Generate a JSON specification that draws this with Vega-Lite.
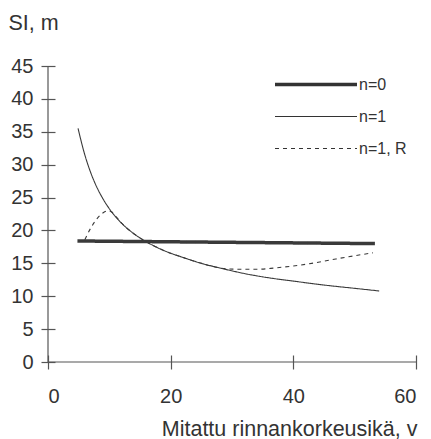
{
  "$schema": "https://vega.github.io/schema/vega-lite/v6.json",
  "width": 368,
  "height": 296,
  "autosize": "none",
  "padding": {"left": 48, "top": 66, "right": 15, "bottom": 77},
  "background": "white",
  "config": {
    "view": {"stroke": null},
    "font": "Liberation Sans",
    "axis": {
      "grid": false,
      "domain": false,
      "offset": -7,
      "tickSize": 14,
      "tickColor": "#555",
      "tickWidth": 1.2,
      "labelOverlap": false,
      "labelFont": "Liberation Sans",
      "labelFontSize": 20,
      "labelColor": "#333",
      "titleFont": "Liberation Sans",
      "titleFontWeight": "normal",
      "titleColor": "#333",
      "titleFontSize": 21.5
    },
    "legend": {
      "orient": "none",
      "legendX": 225,
      "legendY": 10.5,
      "padding": 0,
      "symbolType": "stroke",
      "symbolSize": 6724,
      "symbolStrokeColor": "#333",
      "clipHeight": 16,
      "rowPadding": 16,
      "labelOffset": 0,
      "labelFont": "Liberation Sans",
      "labelFontSize": 16,
      "labelColor": "#333"
    }
  },
  "data": {
    "values": [
      {"series": "n=0", "age": 4.8, "si": 18.4},
      {"series": "n=0", "age": 53.3, "si": 18.0},
      {"series": "n=1", "age": 4.9, "si": 35.5},
      {"series": "n=1", "age": 6, "si": 31.5},
      {"series": "n=1", "age": 7, "si": 28.7},
      {"series": "n=1", "age": 8, "si": 26.5},
      {"series": "n=1", "age": 9, "si": 24.75},
      {"series": "n=1", "age": 10, "si": 23.3},
      {"series": "n=1", "age": 12, "si": 21.1},
      {"series": "n=1", "age": 14, "si": 19.5},
      {"series": "n=1", "age": 16, "si": 18.3},
      {"series": "n=1", "age": 19, "si": 16.9},
      {"series": "n=1", "age": 22, "si": 15.9},
      {"series": "n=1", "age": 25, "si": 15.0},
      {"series": "n=1", "age": 28, "si": 14.3},
      {"series": "n=1", "age": 32, "si": 13.45},
      {"series": "n=1", "age": 36, "si": 12.8},
      {"series": "n=1", "age": 40, "si": 12.3},
      {"series": "n=1", "age": 45, "si": 11.7},
      {"series": "n=1", "age": 50, "si": 11.2},
      {"series": "n=1", "age": 54, "si": 10.8},
      {"series": "n=1, R", "age": 6.0, "si": 18.6},
      {"series": "n=1, R", "age": 7.0, "si": 20.4},
      {"series": "n=1, R", "age": 8.0, "si": 21.8},
      {"series": "n=1, R", "age": 9.0, "si": 22.7},
      {"series": "n=1, R", "age": 9.8, "si": 23.0},
      {"series": "n=1, R", "age": 10.4, "si": 22.8},
      {"series": "n=1, R", "age": 10.9, "si": 22.3},
      {"series": "n=1, R", "age": 12, "si": 21.1},
      {"series": "n=1, R", "age": 14, "si": 19.5},
      {"series": "n=1, R", "age": 16, "si": 18.3},
      {"series": "n=1, R", "age": 19, "si": 16.9},
      {"series": "n=1, R", "age": 22, "si": 15.9},
      {"series": "n=1, R", "age": 25, "si": 15.0},
      {"series": "n=1, R", "age": 28, "si": 14.3},
      {"series": "n=1, R", "age": 31, "si": 14.1},
      {"series": "n=1, R", "age": 34, "si": 14.1},
      {"series": "n=1, R", "age": 37, "si": 14.3},
      {"series": "n=1, R", "age": 40, "si": 14.6},
      {"series": "n=1, R", "age": 43, "si": 15.0},
      {"series": "n=1, R", "age": 46, "si": 15.5},
      {"series": "n=1, R", "age": 49, "si": 16.0},
      {"series": "n=1, R", "age": 53, "si": 16.6}
    ]
  },
  "layer": [
    {
      "mark": {"type": "line", "interpolate": "monotone", "stroke": "#3a3a3a"},
      "encoding": {
        "x": {
          "field": "age", "type": "quantitative",
          "scale": {"domain": [0, 60], "nice": false},
          "axis": {
            "values": [0, 20, 40, 60],
            "labelPadding": 17.5,
            "title": "Mitattu rinnankorkeusikä, v",
            "titleX": 369, "titleY": 80,
            "titleAlign": "right", "titleAnchor": "end", "titleBaseline": "alphabetic"
          }
        },
        "y": {
          "field": "si", "type": "quantitative",
          "scale": {"domain": [0, 45], "nice": false},
          "axis": {
            "values": [0, 5, 10, 15, 20, 25, 30, 35, 40, 45],
            "labelPadding": 8,
            "title": "SI, m",
            "titleAngle": 0,
            "titleX": -47, "titleY": -36.5,
            "titleAlign": "left", "titleAnchor": "start", "titleBaseline": "alphabetic"
          }
        },
        "strokeWidth": {
          "field": "series", "type": "nominal",
          "scale": {"type": "ordinal", "domain": ["n=0", "n=1", "n=1, R"], "range": [3.5, 1.1, 1.1]},
          "legend": {"title": null}
        },
        "strokeDash": {
          "field": "series", "type": "nominal",
          "scale": {"domain": ["n=0", "n=1", "n=1, R"], "range": [[1, 0], [1, 0], [4, 4]]},
          "legend": {
            "title": null,
            "encode": {
              "symbols": {
                "update": {
                  "strokeDash": {"signal": "datum.value === 'n=1, R' ? [3, 18] : [1, 0]"}
                }
              }
            }
          }
        }
      }
    },
    {
      "data": {"values": [{}]},
      "mark": {"type": "rule", "stroke": "#555", "strokeWidth": 1.2},
      "encoding": {
        "x": {"datum": 0, "axis": {"values": [0, 20, 40, 60], "labelPadding": 17.5, "title": "Mitattu rinnankorkeusikä, v", "titleX": 369, "titleY": 80, "titleAlign": "right", "titleAnchor": "end", "titleBaseline": "alphabetic"}},
        "y": {"datum": 0, "axis": {"values": [0, 5, 10, 15, 20, 25, 30, 35, 40, 45], "labelPadding": 8, "title": "SI, m", "titleAngle": 0, "titleX": -47, "titleY": -36.5, "titleAlign": "left", "titleAnchor": "start", "titleBaseline": "alphabetic"}},
        "y2": {"datum": 45}
      }
    },
    {
      "data": {"values": [{}]},
      "mark": {"type": "rule", "stroke": "#555", "strokeWidth": 1.2},
      "encoding": {
        "y": {"datum": 0, "axis": {"values": [0, 5, 10, 15, 20, 25, 30, 35, 40, 45], "labelPadding": 8, "title": "SI, m", "titleAngle": 0, "titleX": -47, "titleY": -36.5, "titleAlign": "left", "titleAnchor": "start", "titleBaseline": "alphabetic"}},
        "x": {"datum": 0, "axis": {"values": [0, 20, 40, 60], "labelPadding": 17.5, "title": "Mitattu rinnankorkeusikä, v", "titleX": 369, "titleY": 80, "titleAlign": "right", "titleAnchor": "end", "titleBaseline": "alphabetic"}},
        "x2": {"datum": 60}
      }
    }
  ]
}
